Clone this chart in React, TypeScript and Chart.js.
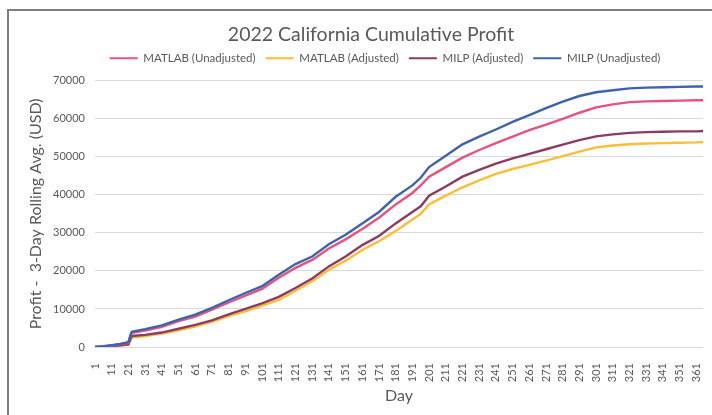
import React, { useEffect, useRef } from 'react';
import { Chart, registerables } from 'chart.js';

Chart.register(...registerables);

const days = [1, 6, 11, 16, 21, 22, 23, 31, 41, 51, 61, 71, 81, 91, 101, 111, 121, 131, 141, 151, 161, 171, 181, 191, 196, 201, 211, 221, 231, 241, 251, 261, 271, 281, 291, 301, 311, 321, 331, 341, 351, 361, 365];

const matlabUnadjusted = [0, 150, 400, 700, 1100, 2500, 3700, 4300, 5300, 6800, 8000, 9800, 11700, 13500, 15300, 18200, 20800, 22900, 25900, 28300, 31000, 34000, 37500, 40500, 42500, 44800, 47300, 49800, 51800, 53600, 55300, 57000, 58500, 60000, 61600, 63000, 63800, 64400, 64600, 64700, 64800, 64900, 64900];

const matlabAdjusted = [0, 80, 200, 400, 600, 1600, 2500, 2900, 3500, 4400, 5400, 6600, 8100, 9400, 10900, 12400, 14800, 17300, 20300, 22700, 25500, 27800, 30500, 33500, 35000, 37500, 39800, 42000, 43800, 45500, 46800, 47900, 49000, 50200, 51400, 52500, 53000, 53300, 53500, 53600, 53700, 53800, 53900];

const milpAdjusted = [0, 100, 250, 450, 700, 1800, 2900, 3200, 3800, 4800, 5800, 7000, 8600, 10000, 11500, 13200, 15500, 18000, 21200, 23800, 26800, 29200, 32500, 35500, 37000, 39800, 42200, 44800, 46600, 48200, 49600, 50800, 52000, 53200, 54400, 55400, 55900, 56300, 56500, 56600, 56700, 56700, 56800];

const milpUnadjusted = [0, 200, 500, 800, 1300, 2800, 4000, 4700, 5700, 7200, 8500, 10300, 12300, 14200, 16000, 19000, 21800, 23800, 27000, 29500, 32500, 35500, 39500, 42500, 44500, 47300, 50300, 53300, 55300, 57200, 59200, 61000, 62800, 64500, 66000, 67000, 67500, 68000, 68200, 68300, 68400, 68500, 68500];

const seriesNames = ['MATLAB (Unadjusted)', 'MATLAB (Adjusted)', 'MILP (Adjusted)', 'MILP (Unadjusted)'];

const xTickDays = [1, 11, 21, 31, 41, 51, 61, 71, 81, 91, 101, 111, 121, 131, 141, 151, 161, 171, 181, 191, 201, 211, 221, 231, 241, 251, 261, 271, 281, 291, 301, 311, 321, 331, 341, 351, 361];

const yTickValues = [0, 10000, 20000, 30000, 40000, 50000, 60000, 70000];

const textColor = '#595959';
const fontFamily = 'Lato, "Open Sans", sans-serif';

const toPoints = (vals: number[]) => vals.map((v, i) => ({ x: days[i], y: v }));

export default function App() {
  const ref = useRef<HTMLCanvasElement | null>(null);

  useEffect(() => {
    if (!ref.current) return;
    const colors = ['#e8527c', '#fcbd37', '#8c3b62', '#3d63ae'];
    const values = [matlabUnadjusted, matlabAdjusted, milpAdjusted, milpUnadjusted];
    const orders = [1, 3, 2, 0];
    const headerTweaks = {
      id: 'headerTweaks',
      beforeInit(chart: any) {
        const orig = chart.legend.fit;
        chart.legend.fit = function fit() {
          orig.bind(chart.legend)();
          this.height += 6.75;
        };
      },
      afterLayout(chart: any) {
        if (chart.legend) {
          chart.legend.left += 29;
          chart.legend.right += 29;
        }
        if (chart.titleBlock) {
          chart.titleBlock.left += 15;
          chart.titleBlock.right += 15;
        }
      },
    };
    const chart = new Chart(ref.current, {
      type: 'line',
      data: {
        datasets: seriesNames.map((name, i) => ({
          label: name,
          data: toPoints(values[i]),
          borderColor: colors[i],
          backgroundColor: colors[i],
          borderWidth: 2.4,
          pointRadius: 0,
          tension: 0,
          order: orders[i],
        })),
      },
      plugins: [headerTweaks],
      options: {
        animation: false,
        responsive: false,
        devicePixelRatio: 1,
        layout: { padding: { top: 0, right: 40, bottom: 0, left: 0 } },
        plugins: {
          title: {
            display: true,
            text: '2022 California Cumulative Profit',
            color: textColor,
            font: { family: fontFamily, size: 19.5, weight: 'normal', lineHeight: 0.5 },
            padding: { top: 19.2, bottom: 2.6 },
          },
          legend: {
            display: true,
            position: 'top',
            labels: {
              color: textColor,
              font: { family: fontFamily, size: 11.5 },
              boxWidth: 28,
              boxHeight: 2,
              padding: 10,
              sort: (a: any, b: any) => a.datasetIndex - b.datasetIndex,
              generateLabels: (c: any) => {
                const items = Chart.defaults.plugins.legend.labels.generateLabels(c);
                return items.map((it: any) => ({ ...it, fillStyle: colors[it.datasetIndex], lineWidth: 0 }));
              },
            },
          },
          tooltip: { enabled: false },
        },
        scales: {
          x: {
            type: 'linear',
            min: 1,
            max: 365,
            afterBuildTicks: (scale: any) => {
              scale.ticks = xTickDays.map((v) => ({ value: v }));
            },
            afterFit: (scale: any) => {
              scale.height = 68;
            },
            grid: { display: false },
            border: { display: false },
            ticks: {
              autoSkip: false,
              maxRotation: 90,
              minRotation: 90,
              padding: 8,
              color: textColor,
              font: { family: fontFamily, size: 11 },
              callback: (v: any) => String(v),
            },
            title: {
              display: true,
              text: 'Day',
              color: textColor,
              font: { family: fontFamily, size: 16 },
              padding: { top: 0, bottom: 10 },
            },
          },
          y: {
            min: 0,
            max: 70000,
            afterBuildTicks: (scale: any) => {
              scale.ticks = yTickValues.map((v) => ({ value: v }));
            },
            afterFit: (scale: any) => {
              scale.width = 86;
            },
            grid: { color: '#d9d9d9', lineWidth: 1, drawTicks: false },
            border: { display: false },
            ticks: {
              padding: 10,
              color: textColor,
              font: { family: fontFamily, size: 11 },
              callback: (v: any) => String(v),
            },
            title: {
              display: true,
              text: 'Profit -  3-Day Rolling Avg. (USD)',
              color: textColor,
              font: { family: fontFamily, size: 16 },
              padding: { top: 17, bottom: 0 },
            },
          },
        },
      },
    } as any);
    return () => chart.destroy();
  }, []);

  return (
    <div style={{ position: 'absolute', left: 0, top: 0, width: 712, height: 415, overflow: 'hidden', background: '#ffffff' }}>
      <div
        style={{
          position: 'absolute',
          left: 7,
          top: 9,
          width: 740,
          height: 420,
          borderTop: '2px solid #7f7f7f',
          borderLeft: '2px solid #7f7f7f',
          boxSizing: 'border-box',
        }}
      >
        <canvas ref={ref} width={734} height={404} style={{ position: 'absolute', left: 0, top: 0, width: 734, height: 404 }} />
      </div>
    </div>
  );
}
